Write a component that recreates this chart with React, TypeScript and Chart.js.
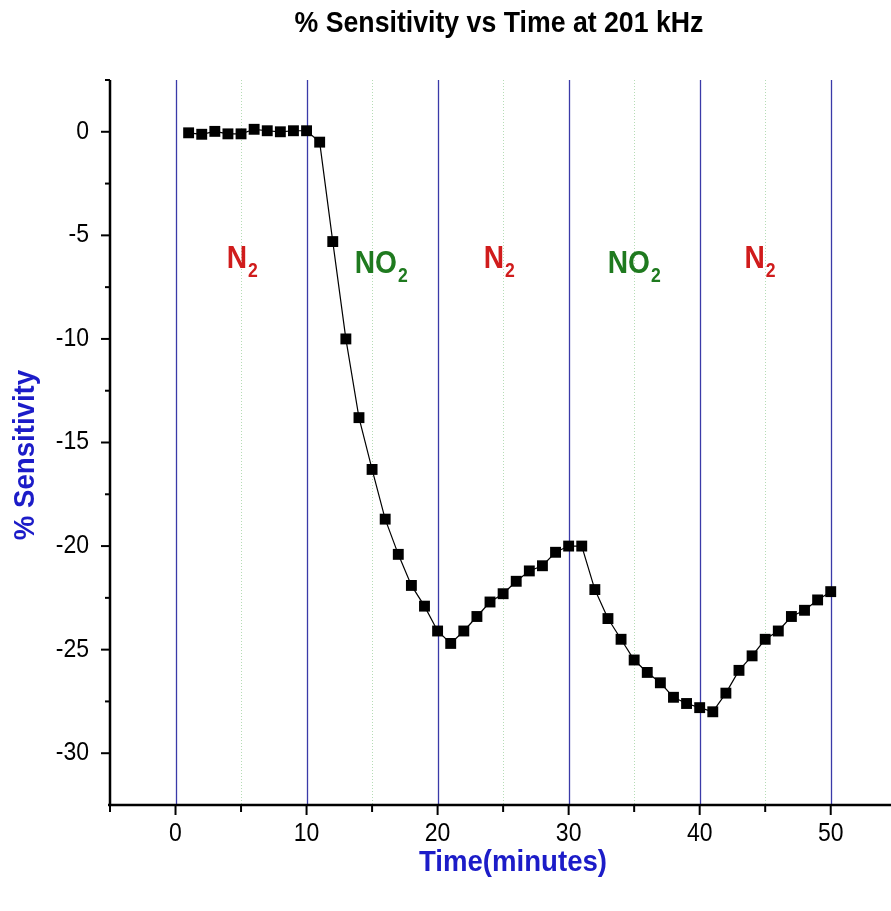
import React, { useEffect, useRef } from 'react';
import { Chart, registerables } from 'chart.js';

Chart.register(...registerables);

const timeMinutes = [
  1, 2, 3, 4, 5, 6, 7, 8, 9, 10,
  11, 12, 13, 14, 15, 16, 17, 18, 19, 20,
  21, 22, 23, 24, 25, 26, 27, 28, 29, 30,
  31, 32, 33, 34, 35, 36, 37, 38, 39, 40,
  41, 42, 43, 44, 45, 46, 47, 48, 49, 50,
];
const sensitivity = [
  -0.05, -0.12, 0.02, -0.1, -0.1, 0.12, 0.05, 0.0, 0.05, 0.05,
  -0.5, -5.3, -10.0, -13.8, -16.3, -18.7, -20.4, -21.9, -22.9, -24.1,
  -24.7, -24.1, -23.4, -22.7, -22.3, -21.7, -21.2, -20.95, -20.3, -20.0,
  -20.0, -22.1, -23.5, -24.5, -25.5, -26.1, -26.6, -27.3, -27.6, -27.8,
  -28.0, -27.1, -26.0, -25.3, -24.5, -24.1, -23.4, -23.1, -22.6, -22.2,
];

const xMajorTicks = [0, 10, 20, 30, 40, 50];
const xMinorTicks = [-5, 5, 15, 25, 35, 45];
const yMajorTicks = [0, -5, -10, -15, -20, -25, -30];
const yMinorTicks = [2.5, -2.5, -7.5, -12.5, -17.5, -22.5, -27.5];
const switchLines = [0, 10, 20, 30, 40, 50];
const midLines = [5, 15, 25, 35, 45];

const gasNames = ['N', 'NO', 'N', 'NO', 'N'];
const gasSub = ['2', '2', '2', '2', '2'];
const gasX = [5.1, 15.7, 24.7, 35.0, 44.6];
const gasY = [-6.57, -6.8, -6.57, -6.8, -6.57];
const gasColors = ['#d01c1c', '#1f7a1f', '#d01c1c', '#1f7a1f', '#d01c1c'];

const FONT = "'Liberation Sans', Arial, 'DejaVu Sans', sans-serif";
const SX = 0.92;

function drawText(ctx: CanvasRenderingContext2D, text: string, x: number, y: number, font: string,
  color: string, align: CanvasTextAlign, baseline: CanvasTextBaseline, sx = SX, rot = 0) {
  ctx.save();
  ctx.font = font;
  ctx.fillStyle = color;
  ctx.textAlign = align;
  ctx.textBaseline = baseline;
  ctx.translate(x, y);
  if (rot) ctx.rotate(rot);
  ctx.scale(sx, 1);
  ctx.fillText(text, 0, 0);
  ctx.restore();
}

const overlay = {
  id: 'overlay',
  beforeDatasetsDraw(chart: any) {
    const { ctx, chartArea, scales } = chart;
    const xs = scales.x;
    ctx.save();
    ctx.strokeStyle = '#b5dcb5';
    ctx.lineWidth = 1;
    ctx.setLineDash([1, 2]);
    midLines.forEach((v) => {
      const px = Math.round(xs.getPixelForValue(v)) + 0.5;
      ctx.beginPath();
      ctx.moveTo(px, chartArea.top);
      ctx.lineTo(px, chartArea.bottom);
      ctx.stroke();
    });
    ctx.setLineDash([]);
    ctx.strokeStyle = '#3a3aa8';
    ctx.lineWidth = 1.3;
    switchLines.forEach((v) => {
      const px = Math.round(xs.getPixelForValue(v)) + 0.5;
      ctx.beginPath();
      ctx.moveTo(px, chartArea.top);
      ctx.lineTo(px, chartArea.bottom);
      ctx.stroke();
    });
    ctx.restore();
  },
  afterDraw(chart: any) {
    const { ctx, chartArea, scales } = chart;
    const xs = scales.x;
    const ys = scales.y;
    ctx.save();
    ctx.strokeStyle = '#000';
    ctx.lineWidth = 2.5;
    ctx.beginPath();
    ctx.moveTo(chartArea.left, chartArea.top);
    ctx.lineTo(chartArea.left, chartArea.bottom);
    ctx.stroke();
    ctx.beginPath();
    ctx.moveTo(chartArea.left - 2, chartArea.bottom);
    ctx.lineTo(chart.width, chartArea.bottom);
    ctx.stroke();
    ctx.lineWidth = 2;
    const xt = (v: number, len: number) => {
      const px = xs.getPixelForValue(v);
      ctx.beginPath();
      ctx.moveTo(px, chartArea.bottom);
      ctx.lineTo(px, chartArea.bottom + len);
      ctx.stroke();
    };
    xMajorTicks.forEach((v) => xt(v, 10));
    xMinorTicks.forEach((v) => xt(v, 7));
    const yt = (v: number, len: number) => {
      const py = ys.getPixelForValue(v);
      ctx.beginPath();
      ctx.moveTo(chartArea.left, py);
      ctx.lineTo(chartArea.left - len, py);
      ctx.stroke();
    };
    yMajorTicks.forEach((v) => yt(v, 9));
    yMinorTicks.forEach((v) => yt(v, 5));
    ctx.restore();

    // tick labels
    const tickFont = `25px ${FONT}`;
    xMajorTicks.forEach((v) => {
      drawText(ctx, String(v), xs.getPixelForValue(v), chartArea.bottom + 29, tickFont, '#000', 'center', 'middle');
    });
    yMajorTicks.forEach((v) => {
      drawText(ctx, String(v), chartArea.left - 21, ys.getPixelForValue(v), tickFont, '#000', 'right', 'middle');
    });

    // gas labels
    gasNames.forEach((name, i) => {
      const bigFont = `bold 32px ${FONT}`;
      const smallFont = `bold 20px ${FONT}`;
      ctx.save();
      ctx.font = bigFont;
      const w1 = ctx.measureText(name).width * 0.88;
      ctx.font = smallFont;
      const w2 = ctx.measureText(gasSub[i]).width * 0.88;
      ctx.restore();
      const cx = xs.getPixelForValue(gasX[i]);
      const by = ys.getPixelForValue(gasY[i]);
      const x0 = cx - (w1 + w2 + 1) / 2;
      drawText(ctx, name, x0, by, bigFont, gasColors[i], 'left', 'alphabetic', 0.88);
      drawText(ctx, gasSub[i], x0 + w1 + 1, by + 9, smallFont, gasColors[i], 'left', 'alphabetic', 0.88);
    });

    // titles
    drawText(ctx, '% Sensitivity vs Time at 201 kHz', 499, 24, `bold 29px ${FONT}`, '#000', 'center', 'middle');
    drawText(ctx, 'Time(minutes)', 513, 863, `bold 30px ${FONT}`, '#1c1cc8', 'center', 'middle');
    drawText(ctx, '% Sensitivity', 26, 455, `bold 30px ${FONT}`, '#1c1cc8', 'center', 'middle', SX, -Math.PI / 2);
  },
};

export default function App() {
  const ref = useRef<HTMLCanvasElement | null>(null);
  useEffect(() => {
    if (!ref.current) return;
    const chart = new Chart(ref.current, {
      type: 'line',
      data: {
        datasets: [
          {
            data: timeMinutes.map((t, i) => ({ x: t, y: sensitivity[i] })),
            borderColor: '#000',
            borderWidth: 1.2,
            backgroundColor: '#000',
            pointStyle: 'rect',
            pointRadius: 7.7,
            pointBorderWidth: 0,
            pointBackgroundColor: '#000',
            tension: 0,
          },
        ],
      },
      options: {
        animation: false,
        responsive: false,
        maintainAspectRatio: false,
        layout: { autoPadding: false, padding: { top: 80, right: 0, left: 0, bottom: 0 } },
        plugins: { legend: { display: false }, title: { display: false }, tooltip: { enabled: false } },
        scales: {
          x: {
            type: 'linear',
            min: -5,
            max: 54.6,
            grid: { display: false, drawTicks: false },
            border: { display: false },
            afterFit: (s: any) => { s.height = 106; s.paddingLeft = 0; s.paddingRight = 0; },
            ticks: { display: false, stepSize: 5, includeBounds: false },
          },
          y: {
            type: 'linear',
            min: -32.5,
            max: 2.5,
            grid: { display: false, drawTicks: false },
            border: { display: false },
            afterFit: (s: any) => { s.width = 110; s.paddingTop = 0; s.paddingBottom = 0; },
            ticks: { display: false, stepSize: 2.5, includeBounds: false },
          },
        },
      },
      plugins: [overlay],
    });
    return () => chart.destroy();
  }, []);
  return (
    <div style={{ position: 'fixed', left: 0, top: 0, width: 891, height: 911, background: '#fff' }}>
      <canvas ref={ref} width={891} height={911} style={{ width: 891, height: 911 }} />
    </div>
  );
}
